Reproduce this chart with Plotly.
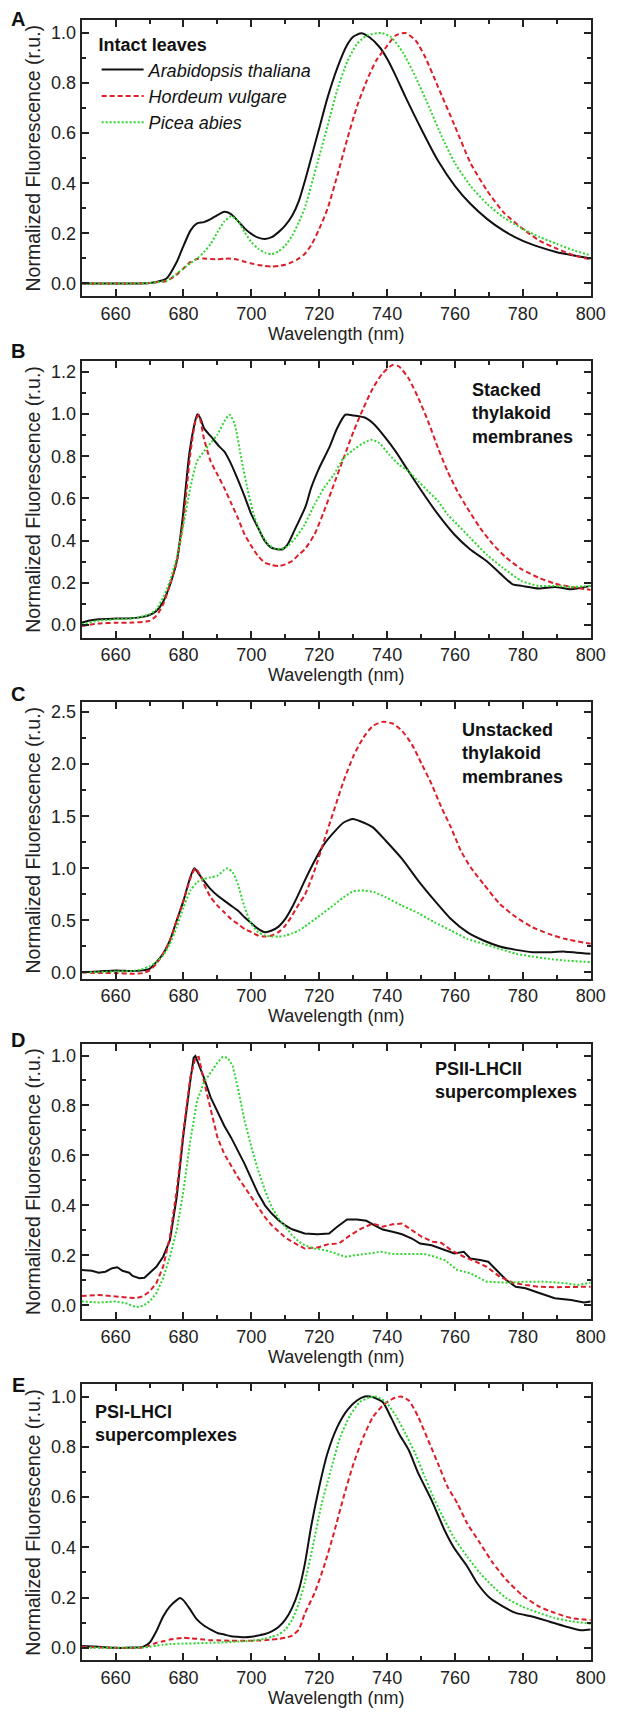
import plotly.graph_objects as go

FONT = "Liberation Sans, Arial, sans-serif"
W, H = 624, 1717

# ---------------- data (wavelength in nm, normalized fluorescence) ----------------
# Panel A: intact leaves
A_wl_ara = [650,665,670,672,675,678,680,682,684,686,688,690,692,694,696,698,700,702,704,706,708,710,712,714,716,718,720,722.4,725.3,728.2,730,732.4,734.8,737.8,740,742.5,745.4,750.2,755,760,764.6,769.5,774.3,780,785,790,795,800]
A_ara = [0,0,0.002,0.006,0.02,0.086,0.15,0.21,0.24,0.245,0.257,0.273,0.286,0.277,0.25,0.22,0.198,0.183,0.178,0.185,0.205,0.232,0.27,0.33,0.42,0.52,0.62,0.74,0.86,0.952,0.985,0.999,0.983,0.943,0.897,0.83,0.745,0.613,0.49,0.389,0.317,0.257,0.211,0.17,0.145,0.125,0.112,0.10]
A_wl_hor = [650,665,670,672,675,678,680,682,684,686,688,690,692,694,696,698,700,702,704,706,708,710,712,714,715.7,717.6,720,722.4,725.3,728.2,731.1,734,736.8,739.7,742.5,745.4,748.4,751.2,755,760,764.6,769.5,774.3,780,785,790,795,800]
A_hor = [0,0,0.002,0.005,0.01,0.035,0.06,0.085,0.098,0.1,0.098,0.097,0.099,0.099,0.095,0.087,0.08,0.074,0.07,0.068,0.07,0.075,0.085,0.1,0.118,0.152,0.218,0.297,0.43,0.574,0.706,0.81,0.89,0.943,0.99,1.0,0.97,0.904,0.785,0.627,0.48,0.37,0.284,0.218,0.17,0.139,0.112,0.096]
A_wl_pic = [650,665,670,672,675,678,680,682,684,686,688,690,692,694,696,698,700,702,704,706,708,710,712,714,715.7,717.6,720,722.4,725.3,728.2,731.1,734,738.3,741.2,744.6,748.4,752.3,756.1,760,764.6,769.5,774.3,780,785,790,795,800]
A_pic = [0,0,0.002,0.005,0.01,0.04,0.06,0.08,0.10,0.125,0.158,0.205,0.247,0.268,0.25,0.205,0.165,0.139,0.123,0.117,0.128,0.152,0.19,0.245,0.3,0.39,0.508,0.627,0.772,0.884,0.956,0.99,1.0,0.983,0.923,0.824,0.706,0.587,0.48,0.389,0.317,0.264,0.218,0.185,0.158,0.132,0.112]

# Panel B: stacked thylakoid membranes
B_wl_ara = [650,652,655,660,665,668,670,672,674,676,678,679.7,681.7,683.2,684.1,685,686,687.2,688.5,690.5,692,693.4,695.4,697.8,700,702,704,706,709,710.6,712.6,716,717.6,720,722.9,725.3,727.7,730.1,733.4,736.3,739.6,742.5,746.3,750.2,755,759.8,764.5,769.3,774.1,777,779.7,784.7,789.4,794.2,800]
B_ara = [0.01,0.02,0.027,0.03,0.032,0.038,0.047,0.066,0.11,0.19,0.30,0.5,0.81,0.95,1.0,0.98,0.934,0.91,0.886,0.847,0.823,0.784,0.713,0.618,0.524,0.46,0.397,0.365,0.358,0.38,0.445,0.563,0.65,0.745,0.84,0.934,0.997,0.994,0.984,0.95,0.886,0.823,0.729,0.634,0.524,0.429,0.358,0.303,0.232,0.192,0.185,0.173,0.18,0.169,0.185]
B_wl_hor = [650,655,660,665,670,672,674,676,678,680,682,683.5,684.5,686,688,690,692,694,696,698,700,702,704,706,708,710,712,714,715.7,718.6,721.4,724.3,727.2,730.1,733,735.8,738.7,741.6,743.5,746.3,749.2,752.1,755,757.8,760.7,763.6,767.4,771.2,775.1,779.7,784.7,789.4,794.2,800]
B_hor = [-0.005,0.006,0.01,0.011,0.019,0.043,0.098,0.19,0.30,0.5,0.81,0.965,0.997,0.886,0.776,0.713,0.65,0.579,0.508,0.429,0.374,0.326,0.295,0.284,0.279,0.287,0.303,0.334,0.358,0.429,0.539,0.666,0.792,0.918,1.028,1.123,1.194,1.233,1.226,1.17,1.076,0.965,0.839,0.729,0.634,0.555,0.46,0.382,0.319,0.263,0.224,0.196,0.18,0.166]
B_wl_pic = [650,655,660,665,670,672,674,676,678,680,682,684,686,688,690,692,693.5,695,697,699,701,703,705,707,710,713,715.7,718.6,721.4,724.3,727.2,730.1,733,735.3,737.7,740.6,743.5,746.3,749.2,752.1,755,757.8,760.7,764.5,769.3,774.1,779.7,784.7,789.4,794.2,800]
B_pic = [0.003,0.02,0.027,0.03,0.05,0.074,0.13,0.208,0.319,0.476,0.65,0.776,0.823,0.863,0.902,0.965,0.997,0.957,0.792,0.634,0.508,0.429,0.382,0.361,0.366,0.413,0.476,0.571,0.65,0.713,0.792,0.831,0.863,0.878,0.863,0.808,0.76,0.729,0.681,0.634,0.587,0.524,0.476,0.413,0.334,0.271,0.208,0.185,0.185,0.18,0.185]

# Panel C: unstacked thylakoid membranes
C_wl_ara = [650,655,660,665,668,670,672,674,676,678,680,682,683.2,684.5,686,688,690,692,694,696,698,700,702,704,706,708,710,712,714,715.7,718.6,721.4,724.3,727.2,729.9,733,735.8,739.6,744.4,749.2,754,758.8,763.6,768.4,773.2,778,782.8,787.6,792.3,800]
C_ara = [0.003,0.01,0.02,0.013,0.02,0.035,0.1,0.18,0.307,0.5,0.69,0.914,1.0,0.946,0.88,0.8,0.738,0.69,0.642,0.594,0.53,0.473,0.419,0.387,0.403,0.44,0.514,0.626,0.76,0.88,1.07,1.23,1.345,1.44,1.473,1.44,1.393,1.265,1.09,0.88,0.69,0.514,0.387,0.307,0.25,0.217,0.195,0.195,0.2,0.179]
C_wl_hor = [650,655,660,665,668,670,672,674,676,678,680,682,683.5,685,686,688,690,692,694,696,698,700,702,704,706,708,710,712,714,715.7,718.6,721.4,724.3,727.2,730.1,733,735.8,738.7,741.6,744.4,747.3,750.2,753.1,756,758.8,761.7,764.6,768.4,773.2,778,782.8,787.6,792.3,800]
C_hor = [0.003,-0.006,-0.006,-0.013,-0.006,0.02,0.083,0.18,0.307,0.5,0.69,0.9,1.0,0.93,0.85,0.722,0.642,0.578,0.514,0.466,0.418,0.387,0.355,0.345,0.355,0.387,0.45,0.546,0.658,0.74,0.978,1.265,1.553,1.84,2.08,2.255,2.367,2.406,2.39,2.32,2.19,2.0,1.808,1.585,1.393,1.17,1.01,0.85,0.658,0.53,0.435,0.37,0.323,0.275]
C_wl_pic = [650,655,660,665,668,670,672,674,676,678,680,682,684,686,688,690,692,693,694.5,696,698,700,702,704,706,708,710,712,714,715.7,719.5,723.4,727.2,730.1,733.4,736.3,739.6,744.4,749.2,754,758.8,763.6,768.4,773.2,778,782.8,787.6,792.3,800]
C_pic = [0.003,0.003,0.01,0.013,0.035,0.058,0.1,0.163,0.275,0.435,0.626,0.786,0.866,0.898,0.914,0.93,0.984,1.0,0.962,0.85,0.626,0.466,0.387,0.355,0.345,0.345,0.355,0.377,0.403,0.44,0.53,0.626,0.722,0.78,0.786,0.77,0.722,0.642,0.569,0.482,0.403,0.323,0.275,0.227,0.179,0.153,0.131,0.115,0.099]

# Panel D: PSII-LHCII supercomplexes
D_wl_ara = [650,653,655,657,659,660.5,662,664,665,667,668.5,670,672,674,676,678,680,682,683,683.5,684.5,686,688,690,692,694,696,698,700,702,704,706,708,710,712,714,715.7,719.5,722.9,725.3,728.2,731.1,733.9,736.3,738.7,741.6,744.4,747.3,749.7,753.1,755.9,759.8,762.6,764.5,767.4,769.8,772.2,775.1,777.9,780.8,784.6,789.4,794.2,798,800]
D_ara = [0.141,0.138,0.13,0.134,0.148,0.152,0.138,0.13,0.117,0.108,0.11,0.128,0.154,0.194,0.26,0.433,0.686,0.898,0.991,0.998,0.965,0.912,0.832,0.772,0.719,0.672,0.619,0.566,0.506,0.447,0.4,0.367,0.34,0.32,0.304,0.294,0.287,0.284,0.287,0.314,0.343,0.343,0.338,0.32,0.303,0.294,0.284,0.267,0.247,0.24,0.227,0.207,0.214,0.187,0.181,0.174,0.141,0.101,0.074,0.068,0.05,0.028,0.021,0.011,0.015]
D_wl_hor = [650,655,660,663,666,668,670,672,674,676,678,680,682,683.5,684.5,686,688,690,692,694,696,698,700,702,704,706,708,710,712,714,715.7,719.5,722.9,725.8,729.1,732.4,735.8,738.7,741.6,744.4,747.3,750.2,753.5,755.9,758.8,762.6,765.5,769.3,773.2,777,780.8,784.6,789.4,794.2,800]
D_hor = [0.037,0.041,0.035,0.032,0.028,0.035,0.055,0.088,0.154,0.274,0.46,0.699,0.912,0.991,0.994,0.898,0.779,0.672,0.606,0.559,0.513,0.473,0.433,0.393,0.353,0.32,0.294,0.271,0.254,0.24,0.227,0.231,0.245,0.247,0.28,0.307,0.327,0.314,0.324,0.327,0.3,0.274,0.254,0.25,0.221,0.194,0.178,0.154,0.114,0.09,0.081,0.074,0.072,0.074,0.074]
D_wl_pic = [650,655,660,663,666,668,670,672,674,676,678,680,682,684,686,688,690,691.5,693,694.5,696,698,700,702,704,706,708,710,712,714,715.7,718.6,721.4,724.3,727.6,731.1,734.9,738.3,741.6,746.4,751.1,754,756.9,760.7,764.5,769.3,775.1,780.8,786.5,792.3,796.1,800]
D_pic = [0.015,0.011,0.015,0.008,-0.008,-0.003,0.015,0.048,0.108,0.194,0.3,0.46,0.659,0.819,0.892,0.932,0.971,0.994,0.991,0.958,0.872,0.739,0.633,0.54,0.46,0.393,0.347,0.314,0.28,0.254,0.24,0.227,0.221,0.21,0.194,0.201,0.207,0.214,0.205,0.205,0.205,0.194,0.181,0.141,0.128,0.094,0.09,0.094,0.094,0.088,0.081,0.09]

# Panel E: PSI-LHCI supercomplexes
E_wl_ara = [650,655,660,665,668,670,672,674,676,678,679,680,682,684,686,688,690,692,694,696,698,700,702,704,706,708,710,712,714,715.7,717.6,720,722.4,725.3,728.2,731.1,733.4,735.9,738.7,741.1,743.5,746.4,749.2,753.1,756.9,759.8,763.6,766.5,770.3,774.1,777.9,782.7,787.5,792.3,797.1,800]
E_ara = [0.007,0.004,0,0.001,0.004,0.02,0.066,0.125,0.165,0.19,0.198,0.189,0.152,0.112,0.089,0.073,0.059,0.053,0.046,0.044,0.042,0.044,0.049,0.055,0.066,0.083,0.112,0.159,0.231,0.33,0.482,0.641,0.773,0.878,0.945,0.984,1.0,0.997,0.978,0.918,0.852,0.786,0.694,0.588,0.469,0.396,0.324,0.258,0.198,0.165,0.139,0.125,0.106,0.086,0.07,0.073]
E_wl_hor = [650,660,668,670,672,674,676,678,680,682,684,686,688,690,694,698,702,704,706,708,710,712,714,715.7,718.6,721.4,724.3,727.2,730.1,733,735.8,738.7,741.6,744,746.4,749.2,752.1,755,757.8,760.7,763.6,767.4,771.2,775.1,779.7,784.7,789.4,794.2,800]
E_hor = [0.004,0,0.001,0.009,0.02,0.026,0.033,0.037,0.04,0.038,0.036,0.033,0.03,0.03,0.028,0.028,0.029,0.03,0.033,0.036,0.04,0.049,0.073,0.135,0.218,0.324,0.456,0.601,0.733,0.839,0.918,0.964,0.991,1.0,0.984,0.918,0.826,0.733,0.641,0.575,0.495,0.416,0.337,0.271,0.211,0.165,0.139,0.119,0.11]
E_wl_pic = [650,660,668,670,672,674,676,680,684,688,692,696,700,704,706,708,710,712,714,715.7,718.1,720.5,723.4,726.2,729.1,732,734.9,736.8,739.6,742.5,745.4,748.3,751.1,754,756.9,759.8,763.6,767.4,771.2,775.1,779.7,784.7,789.4,794.2,800]
E_pic = [0,0,0.001,0.004,0.009,0.012,0.015,0.017,0.018,0.02,0.022,0.025,0.028,0.036,0.044,0.053,0.073,0.112,0.178,0.258,0.403,0.561,0.707,0.839,0.925,0.978,0.997,1.0,0.978,0.925,0.852,0.773,0.68,0.588,0.509,0.436,0.363,0.297,0.244,0.198,0.165,0.139,0.119,0.106,0.096]

species = ["Arabidopsis thaliana", "Hordeum vulgare", "Picea abies"]
panel_letters = ["A", "B", "C", "D", "E"]
panel_notes = ["", "Stacked<br>thylakoid<br>membranes", "Unstacked<br>thylakoid<br>membranes",
               "PSII-LHCII<br>supercomplexes", "PSI-LHCI<br>supercomplexes"]
y_ranges = [[-0.05, 1.05], [-0.06, 1.25], [-0.06, 2.6], [-0.055, 1.045], [-0.05, 1.048]]
y_dticks = [0.2, 0.2, 0.5, 0.2, 0.2]

series = [
    [(A_wl_ara, A_ara), (A_wl_hor, A_hor), (A_wl_pic, A_pic)],
    [(B_wl_ara, B_ara), (B_wl_hor, B_hor), (B_wl_pic, B_pic)],
    [(C_wl_ara, C_ara), (C_wl_hor, C_hor), (C_wl_pic, C_pic)],
    [(D_wl_ara, D_ara), (D_wl_hor, D_hor), (D_wl_pic, D_pic)],
    [(E_wl_ara, E_ara), (E_wl_hor, E_hor), (E_wl_pic, E_pic)],
]
for p in series:
    for wl, v in p:
        assert len(wl) == len(v), (len(wl), len(v))

# ---------------- styling / layout ----------------
styles = [dict(color="#111111", width=2, dash="solid"),
          dict(color="#dc1e28", width=2, dash="5px,3px"),
          dict(color="#2fd62f", width=2, dash="2px,2px")]

x_left, x_right = 83.7, 605.3
panel_px = [(20.5, 296.7), (362.3, 639.0), (703.3, 981.0), (1046.7, 1322.0), (1387.7, 1664.3)]
letter_y = [19, 351.7, 696, 1042, 1388]
note_pos = [None, (482, 414), (471.5, 754.8), (444, 1083.5), (95.5, 1426.7)]

def py(px):
    return 1 - px / H

fig = go.Figure()
axis_font = dict(family=FONT, size=18, color="#222222")
layout = dict(width=W, height=H, margin=dict(l=0, r=0, t=0, b=0),
              paper_bgcolor="white", plot_bgcolor="white",
              font=dict(family=FONT, size=18, color="#222222"),
              showlegend=True)
annotations = []
for i in range(5):
    n = "" if i == 0 else str(i + 1)
    xa, ya = "x" + n, "y" + n
    for j, (wl, v) in enumerate(series[i]):
        shape = "linear" if i == 3 else "spline"
        fig.add_trace(go.Scatter(
            x=wl, y=v, mode="lines", xaxis=xa, yaxis=ya,
            name="<i>%s</i>" % species[j], showlegend=(i == 0),
            line=dict(color=styles[j]["color"], width=styles[j]["width"],
                      dash=styles[j]["dash"], shape=shape, smoothing=0.6)))
    top, bot = panel_px[i]
    layout["xaxis" + n] = dict(
        domain=[x_left / W, x_right / W], anchor=ya, range=[650, 800],
        tick0=660, dtick=20, ticks="inside", ticklen=7, tickwidth=1.5,
        tickcolor="#222222", showline=True, linewidth=2, linecolor="#222222",
        mirror="ticks", showgrid=False, zeroline=False, tickfont=axis_font,
        minor=dict(dtick=10, tick0=650, ticks="inside", ticklen=4, tickwidth=1.5,
                   tickcolor="#222222", showgrid=False),
        title=dict(text="Wavelength (nm)", font=axis_font, standoff=4))
    layout["yaxis" + n] = dict(
        domain=[py(bot), py(top)], anchor=xa, range=y_ranges[i],
        tick0=0, dtick=y_dticks[i], tickformat=".1f", ticks="inside", ticklen=7,
        tickwidth=1.5, tickcolor="#222222", showline=True, linewidth=2,
        linecolor="#222222", mirror="ticks", showgrid=False, zeroline=False,
        tickfont=axis_font,
        minor=dict(dtick=y_dticks[i] / 2, tick0=0, ticks="inside", ticklen=4,
                   tickwidth=1.5, tickcolor="#222222", showgrid=False),
        title=dict(text="Normalized Fluorescence (r.u.)",
                   font=dict(family=FONT, size=19.5, color="#222222"), standoff=5))
    annotations.append(dict(text="<b>%s</b>" % panel_letters[i], x=18.5 / W, y=py(letter_y[i]),
                            xref="paper", yref="paper", xanchor="center", yanchor="middle",
                            showarrow=False, font=dict(family=FONT, size=20, color="#111111")))
    if note_pos[i]:
        nx, ny = note_pos[i]
        annotations.append(dict(text="<b>%s</b>" % panel_notes[i], x=nx / W, y=py(ny),
                                xref="paper", yref="paper", xanchor="left", yanchor="middle",
                                align="left", showarrow=False,
                                font=dict(family=FONT, size=18, color="#111111")))

layout["annotations"] = annotations
layout["legend"] = dict(x=99 / W, y=py(28), xanchor="left", yanchor="top",
                        bgcolor="rgba(0,0,0,0)", borderwidth=0, itemwidth=42,
                        font=dict(family=FONT, size=18, color="#111111"),
                        title=dict(text="<b>Intact leaves</b>",
                                   font=dict(family=FONT, size=18, color="#111111")))
fig.update_layout(**layout)
fig.write_html("out.html")
